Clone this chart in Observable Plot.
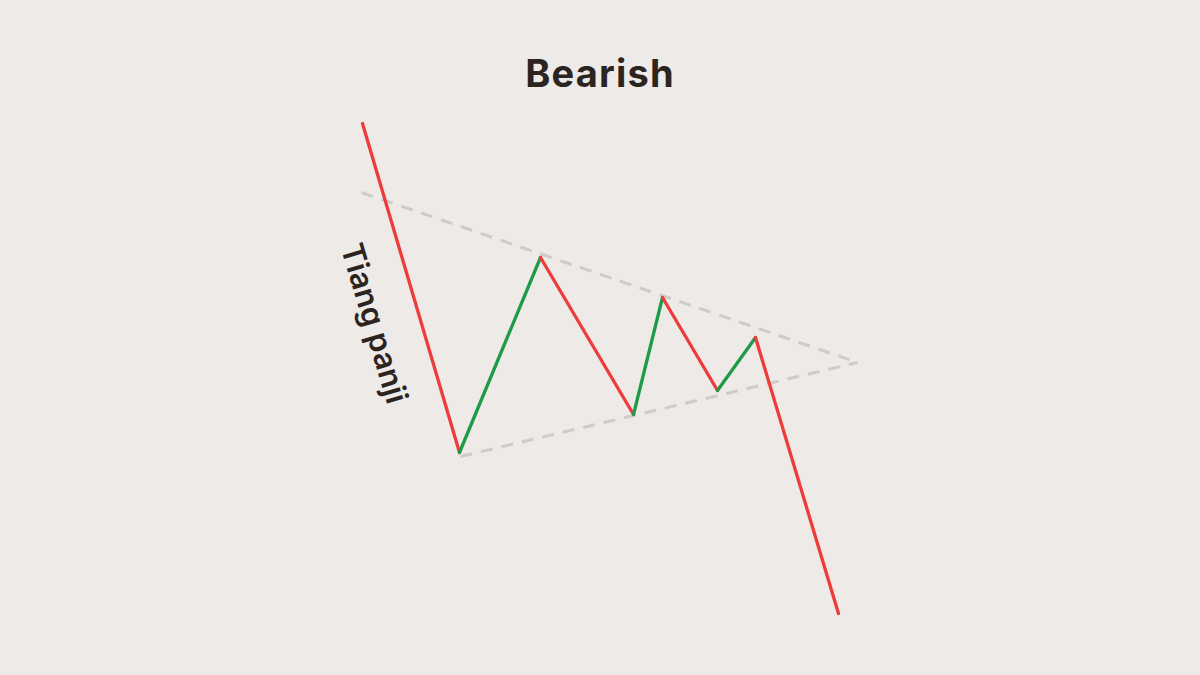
<!DOCTYPE html>
<html>
<head>
<meta charset="utf-8">
<script src="https://cdn.jsdelivr.net/npm/d3@7"></script>
<script src="https://cdn.jsdelivr.net/npm/@observablehq/plot@0.6"></script>
<style>
  html, body { margin: 0; padding: 0; background: #EEEAE7; }
  #title { height: 110px; box-sizing: border-box; padding-top: 55px; line-height: 37px;
    text-align: center; font-family: Inter, "Open Sans", sans-serif; font-weight: 700;
    font-size: 38px; letter-spacing: 1.2px; color: #2B241F; }
  #chart svg { display: block; }
</style>
</head>
<body>
<div id="title">Bearish</div>
<div id="chart"></div>
<script>
// Zigzag of the price path (time, price)
const times  = [362, 459, 540, 633, 662, 717, 755, 838];
const prices = [552, 223, 418, 261, 378, 285, 338, 62];

// Trendlines of the pennant (start/end)
const upperLine = {t1: 361, p1: 483, t2: 857, p2: 313};
const lowerLine = {t1: 460, p1: 219, t2: 857, p2: 313};

const poleLabel = "Tiang panji";
const poleLabelPos = {t: 373, p: 352};

const segments = [];
for (let i = 0; i < times.length - 1; i++) {
  segments.push({t1: times[i], p1: prices[i], t2: times[i+1], p2: prices[i+1],
    dir: prices[i+1] < prices[i] ? "down" : "up"});
}
const trend = [upperLine, lowerLine];

const chart = Plot.plot({
  width: 1200,
  height: 565,
  margin: 0,
  style: {background: "#EEEAE7", overflow: "visible"},
  x: {domain: [0, 1200], axis: null},
  y: {domain: [0, 565], axis: null},
  color: {domain: ["down", "up"], range: ["#EE3B3B", "#1E9B48"]},
  marks: [
    Plot.link(trend, {x1: "t1", y1: "p1", x2: "t2", y2: "p2",
      stroke: "#CFCBC8", strokeWidth: 3, strokeDasharray: "12 9"}),
    Plot.link(segments, {x1: "t1", y1: "p1", x2: "t2", y2: "p2",
      stroke: "dir", strokeWidth: 3.3, strokeLinecap: "round", strokeLinejoin: "round"}),
    Plot.text([poleLabelPos], {x: "t", y: "p", text: () => poleLabel, rotate: 73.5,
      fontSize: 31, fontWeight: 600, fill: "#2B241F", fontFamily: "Inter, sans-serif",
      textAnchor: "middle", lineAnchor: "middle", letterSpacing: "0.5px"})
  ]
});
document.getElementById("chart").append(chart);
</script>
</body>
</html>
